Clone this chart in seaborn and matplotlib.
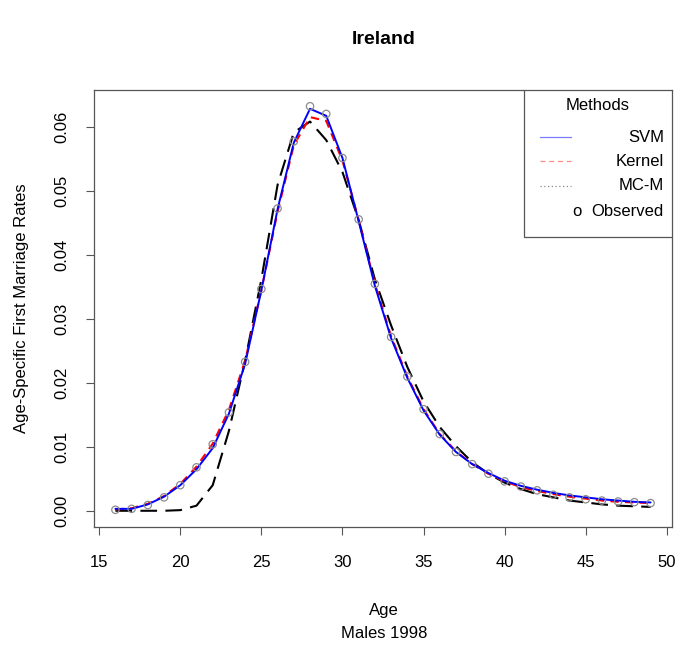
import matplotlib
matplotlib.use("Agg")
import matplotlib.pyplot as plt
from matplotlib.patches import Rectangle
from matplotlib.lines import Line2D
import seaborn as sns

# Age-specific first marriage rates, Irish males, 1998
ages = list(range(16, 50))

observed = [0.00015, 0.0003, 0.0009, 0.0021, 0.0040, 0.0068, 0.0104, 0.0154,
            0.0233, 0.0347, 0.0473, 0.0578, 0.0633, 0.0621, 0.0552, 0.0456,
            0.0355, 0.0272, 0.0210, 0.0159, 0.0120, 0.0092, 0.0073, 0.0058,
            0.0046, 0.0038, 0.0032, 0.0025, 0.0021, 0.0018, 0.0016, 0.00145,
            0.00135, 0.0012]

svm = [0.0003, 0.0003, 0.0010, 0.0022, 0.0040, 0.0065, 0.0098, 0.0152,
       0.0230, 0.0345, 0.0472, 0.0576, 0.0629, 0.0618, 0.0552, 0.0453,
       0.0352, 0.0270, 0.0208, 0.0157, 0.0119, 0.0092, 0.0073, 0.0059,
       0.0047, 0.0039, 0.0033, 0.0028, 0.0024, 0.0021, 0.0018, 0.0016,
       0.0014, 0.0013]

kernel = [0.0002, 0.0004, 0.0011, 0.0023, 0.0042, 0.0069, 0.0105, 0.0158,
          0.0235, 0.0345, 0.0468, 0.0572, 0.0616, 0.0610, 0.0548, 0.0455,
          0.0355, 0.0273, 0.0210, 0.0159, 0.0120, 0.0093, 0.0073, 0.0058,
          0.0046, 0.0037, 0.0031, 0.0026, 0.0022, 0.0019, 0.0016, 0.0014,
          0.0013, 0.0012]

mcm = [0.0, 0.0, 0.0, 0.0, 0.0001, 0.0008, 0.0040, 0.0125,
       0.0235, 0.0362, 0.0510, 0.0592, 0.0609, 0.0580, 0.0530, 0.0455,
       0.0362, 0.0290, 0.0225, 0.0171, 0.0131, 0.0101, 0.0076, 0.0058,
       0.0044, 0.0034, 0.0026, 0.0021, 0.0016, 0.0013, 0.0010, 0.0008,
       0.0007, 0.0006]

method_labels = ["SVM", "Kernel", "MC-M"]
xticks = [15, 20, 25, 30, 35, 40, 45, 50]
yticks = [0.00, 0.01, 0.02, 0.03, 0.04, 0.05, 0.06]

sns.set_style("ticks")
plt.rcParams["font.family"] = ["Liberation Sans", "DejaVu Sans"]
plt.rcParams["text.color"] = "black"

fig = plt.figure(figsize=(6.8, 6.46), dpi=100)
ax = fig.add_axes([94 / 680, 1 - 527 / 646, (672 - 94) / 680, (527 - 90) / 646])

sns.lineplot(x=ages, y=mcm, ax=ax, color="black", linewidth=1.5,
             linestyle=(0, (8, 4)), zorder=2)
sns.lineplot(x=ages, y=kernel, ax=ax, color="red", linewidth=1.5,
             linestyle=(0, (4, 3)), zorder=3)
sns.lineplot(x=ages, y=svm, ax=ax, color="blue", linewidth=1.4, zorder=4)
sns.scatterplot(x=ages, y=observed, ax=ax, marker="o", s=28,
                facecolor="none", edgecolor="#8c8c8c", linewidth=0.9, zorder=5)

ax.set_xlim(14.68, 50.32)
ax.set_ylim(-0.00254, 0.06584)
ax.set_xticks(xticks)
ax.set_yticks(yticks)
ax.set_yticklabels([f"{v:.2f}" for v in yticks], rotation=90, va="center")
ax.tick_params(axis="both", direction="out", length=6, width=0.8,
               color="#555555", labelsize=12, labelcolor="black")
ax.tick_params(axis="x", pad=14)
ax.tick_params(axis="y", pad=12)
for sp in ax.spines.values():
    sp.set_visible(True)
    sp.set_color("#555555")
    sp.set_linewidth(0.9)
ax.set_xlabel("")
ax.set_ylabel("")

# Legend box in the top-right corner
lx0, lx1 = (524 - 94) / 578, 1.0
ly0, ly1 = (527 - 237) / 437, 1.0
ax.add_patch(Rectangle((lx0, ly0), lx1 - lx0, ly1 - ly0, transform=ax.transAxes,
                       facecolor="white", edgecolor="#555555", linewidth=0.9,
                       zorder=10))


def ay(py):
    return (527 - py) / 437


def axx(px):
    return (px - 94) / 578


ax.text(axx(598), ay(106), "Methods", transform=ax.transAxes, ha="center",
        va="center", fontsize=12, zorder=11)
handle_styles = [
    dict(color="#7b7bff", linestyle="-", linewidth=0.9),
    dict(color="#ff8a8a", linestyle=(0, (4, 3)), linewidth=0.9),
    dict(color="#8a8a8a", linestyle=(0, (1, 2)), linewidth=0.9),
]
rows = [137, 161, 186]
for lab, st, py in zip(method_labels, handle_styles, rows):
    ax.add_line(Line2D([axx(540), axx(571)], [ay(py), ay(py)],
                       transform=ax.transAxes, zorder=11, **st))
    ax.text(axx(664), ay(py), lab, transform=ax.transAxes, ha="right",
            va="center", fontsize=12, zorder=11)
ax.text(axx(577), ay(211), "o", transform=ax.transAxes, ha="center",
        va="center", fontsize=12, zorder=11)
ax.text(axx(664), ay(211), "Observed", transform=ax.transAxes, ha="right",
        va="center", fontsize=12, zorder=11)

fig.text(384 / 680, 1 - 40 / 646, "Ireland", ha="center", va="center",
         fontsize=14, fontweight="bold")
fig.text(384 / 680, 1 - 611 / 646, "Age", ha="center", va="center",
         fontsize=12)
fig.text(384 / 680, 1 - 633 / 646, "Males 1998", ha="center", va="center",
         fontsize=12)
fig.text(22 / 680, 1 - 308 / 646, "Age-Specific First Marriage Rates",
         ha="center", va="center", rotation=90, fontsize=12)

fig.savefig("out.png", dpi=100, facecolor="white")
